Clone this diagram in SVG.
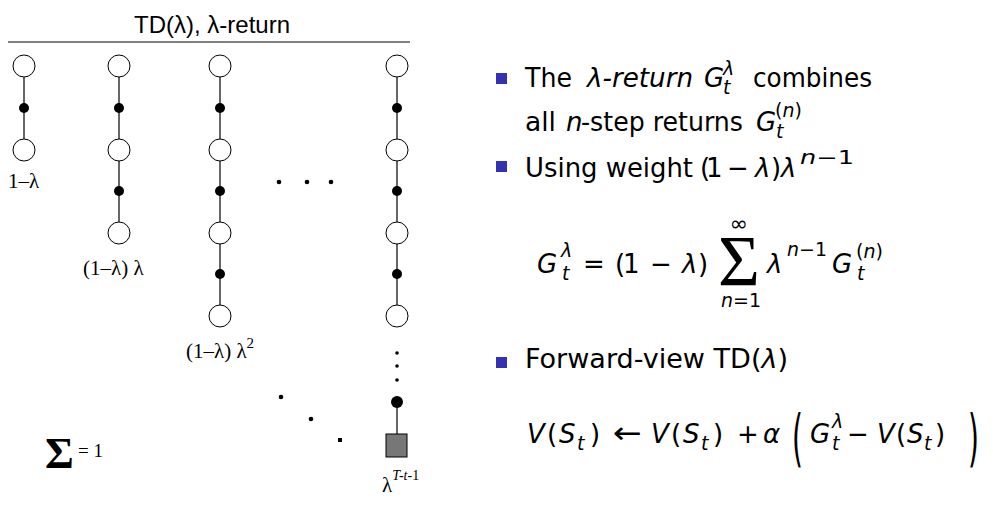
<svg xmlns="http://www.w3.org/2000/svg" width="993" height="520" viewBox="0 0 993 520">
<style>
.open{fill:#fff;stroke:#000;stroke-width:1}
.dot{fill:#000}
.edge{stroke:#000;stroke-width:1.2;fill:none}
.term{fill:#777;stroke:#000;stroke-width:1}
.serif{font-family:"Liberation Serif",serif;fill:#000}
.sans{font-family:"DejaVu Sans",sans-serif;fill:#000;font-size:26px}
.it{font-style:italic}
.sm{font-size:19px}
.bullet{fill:#3333b2}
</style>
<rect width="993" height="520" fill="#fff"/>
<g id="title">
<text x="212" y="33" font-family="Liberation Sans, sans-serif" font-size="24" text-anchor="middle">TD(λ), λ-return</text>
<line x1="8" y1="42" x2="410" y2="42" stroke="#000" stroke-width="1"/>
</g>
<g id="connectors">
<line class="edge" x1="24" y1="66" x2="24" y2="150"/>
<line class="edge" x1="119" y1="66" x2="119" y2="233"/>
<line class="edge" x1="220" y1="66" x2="220" y2="316"/>
<line class="edge" x1="397" y1="66" x2="397" y2="316"/>
<line class="edge" x1="397" y1="402" x2="397" y2="434"/>
</g>
<g id="col1">
<circle class="open" cx="24" cy="66" r="11"/>
<circle class="dot" cx="24" cy="108" r="5"/>
<circle class="open" cx="24" cy="150" r="11"/>
<text class="serif" x="8" y="188" font-size="21">1–λ</text>
</g>
<g id="col2">
<circle class="open" cx="119" cy="66" r="11"/>
<circle class="dot" cx="119" cy="108" r="5"/>
<circle class="open" cx="119" cy="150" r="11"/>
<circle class="dot" cx="119" cy="191" r="5"/>
<circle class="open" cx="119" cy="233" r="11"/>
<text class="serif" x="83" y="275" font-size="21">(1–λ) λ</text>
</g>
<g id="col3">
<circle class="open" cx="220" cy="66" r="11"/>
<circle class="dot" cx="220" cy="108" r="5"/>
<circle class="open" cx="220" cy="150" r="11"/>
<circle class="dot" cx="220" cy="191" r="5"/>
<circle class="open" cx="220" cy="233" r="11"/>
<circle class="dot" cx="220" cy="274" r="5"/>
<circle class="open" cx="220" cy="316" r="11"/>
<text class="serif" x="186" y="358" font-size="21">(1–λ) λ<tspan dy="-10" font-size="15">2</tspan></text>
</g>
<g id="col4">
<circle class="open" cx="397" cy="66" r="11"/>
<circle class="dot" cx="397" cy="108" r="5"/>
<circle class="open" cx="397" cy="150" r="11"/>
<circle class="dot" cx="397" cy="191" r="5"/>
<circle class="open" cx="397" cy="233" r="11"/>
<circle class="dot" cx="397" cy="274" r="5"/>
<circle class="open" cx="397" cy="316" r="11"/>
<circle class="dot" cx="397" cy="353" r="1.8"/>
<circle class="dot" cx="397" cy="366" r="1.8"/>
<circle class="dot" cx="397" cy="380" r="1.8"/>
<circle class="dot" cx="397" cy="402" r="6"/>
<rect class="term" x="386" y="434" width="21" height="23"/>
<text class="serif" x="382" y="492" font-size="21">λ<tspan class="it" dy="-12" font-size="14">T-t-</tspan><tspan font-size="14">1</tspan></text>
</g>
<g id="ellipses">
<circle class="dot" cx="279" cy="182" r="2.3"/>
<circle class="dot" cx="307" cy="182" r="2.3"/>
<circle class="dot" cx="331" cy="182" r="2.3"/>
<circle class="dot" cx="281" cy="397" r="2.3"/>
<circle class="dot" cx="311" cy="419" r="2.3"/>
<rect class="dot" x="338" y="438" width="4" height="4"/>
</g>
<g id="sum">
<text class="serif" x="45" y="468" font-size="44" font-weight="bold">Σ</text>
<text class="serif" x="78" y="457" font-size="19">= 1</text>
</g>
<g id="bullet1">
<rect class="bullet" x="496" y="73" width="11" height="11"/>
<text class="sans" x="525" y="87" textLength="47" lengthAdjust="spacingAndGlyphs">The</text>
<text class="sans it" x="587" y="87" textLength="106" lengthAdjust="spacingAndGlyphs">λ-return</text>
<text class="sans" y="87"><tspan class="it" x="704">G</tspan><tspan class="it sm" x="723" y="75">λ</tspan><tspan class="it sm" x="723" y="94">t</tspan></text>
<text class="sans" x="753" y="87" textLength="119" lengthAdjust="spacingAndGlyphs">combines</text>
<text class="sans" x="525" y="131" textLength="31" lengthAdjust="spacingAndGlyphs">all</text>
<text class="sans it" x="566" y="131">n</text>
<text class="sans" x="581" y="131" textLength="162" lengthAdjust="spacingAndGlyphs">-step returns</text>
<text class="sans" y="131"><tspan class="it" x="756">G</tspan><tspan class="sm" x="775" y="117">(<tspan class="it">n</tspan>)</tspan><tspan class="it sm" x="776" y="138">t</tspan></text>
</g>
<g id="bullet2">
<rect class="bullet" x="496" y="161" width="11" height="11"/>
<text class="sans" x="525" y="177" textLength="168" lengthAdjust="spacingAndGlyphs">Using weight</text>
<text class="sans" y="177"><tspan x="700">(</tspan><tspan x="706">1</tspan><tspan x="727">−</tspan><tspan class="it" x="755">λ</tspan><tspan x="771">)</tspan><tspan class="it" x="781">λ</tspan></text>
<text class="sans sm" x="800" y="164" textLength="54" lengthAdjust="spacingAndGlyphs"><tspan class="it">n</tspan>−1</text>
</g>
<g id="equation1">
<text class="sans" y="273"><tspan class="it" x="537">G</tspan><tspan class="it sm" x="561" y="257">λ</tspan><tspan class="it sm" x="562" y="280">t</tspan><tspan x="583" y="273">=</tspan><tspan x="615">(</tspan><tspan x="623">1</tspan><tspan x="650">−</tspan><tspan class="it" x="682">λ</tspan><tspan x="698">)</tspan><tspan class="it" x="767">λ</tspan><tspan class="it" x="832">G</tspan><tspan class="it sm" x="857" y="280">t</tspan></text>
<text class="sans sm" x="787" y="256" textLength="40" lengthAdjust="spacingAndGlyphs"><tspan class="it">n</tspan>−1</text>
<text class="sans sm" x="856" y="258" textLength="27" lengthAdjust="spacingAndGlyphs">(<tspan class="it">n</tspan>)</text>
<text x="739" y="285" font-family="Liberation Serif, serif" font-size="72" text-anchor="middle">Σ</text>
<text x="739" y="231" font-family="DejaVu Sans, sans-serif" font-size="22" text-anchor="middle">∞</text>
<text class="sans sm" x="741" y="307" text-anchor="middle"><tspan class="it">n</tspan>=1</text>
</g>
<g id="bullet3">
<rect class="bullet" x="496" y="357" width="11" height="11"/>
<text class="sans" x="525" y="368" textLength="263" lengthAdjust="spacingAndGlyphs">Forward-view TD(<tspan class="it">λ</tspan>)</text>
</g>
<g id="equation2">
<text class="sans" y="443"><tspan class="it" x="527">V</tspan><tspan x="547">(</tspan><tspan class="it" x="559">S</tspan><tspan class="it sm" x="577" y="450">t</tspan><tspan x="590" y="443">)</tspan><tspan x="651" class="it">V</tspan><tspan x="671">(</tspan><tspan class="it" x="683">S</tspan><tspan class="it sm" x="701" y="450">t</tspan><tspan x="713" y="443">)</tspan><tspan x="737">+</tspan><tspan class="it" x="763">α</tspan><tspan class="it" x="810">G</tspan><tspan class="it sm" x="832" y="428">λ</tspan><tspan class="it sm" x="832" y="450">t</tspan><tspan x="847" y="443">−</tspan><tspan class="it" x="877">V</tspan><tspan x="896">(</tspan><tspan class="it" x="907">S</tspan><tspan class="it sm" x="924" y="450">t</tspan><tspan x="935" y="443">)</tspan></text>
<text class="sans" x="613" y="443" style="font-size:30px" textLength="29" lengthAdjust="spacingAndGlyphs">←</text>
<text class="sans" transform="translate(792,459) scale(0.7,1.55)" style="font-size:40px">(</text>
<text class="sans" transform="translate(968,459) scale(0.7,1.55)" style="font-size:40px">)</text>
</g>
</svg>
